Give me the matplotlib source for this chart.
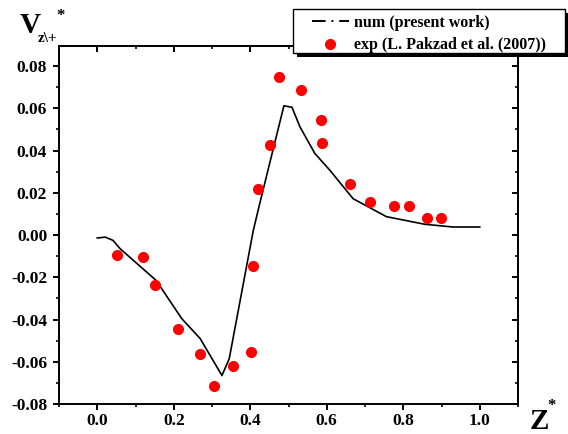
import matplotlib.pyplot as plt
from matplotlib.lines import Line2D
from matplotlib.patches import Rectangle
from matplotlib.ticker import MultipleLocator

# numerical profile (present work)
z_num = [0.0, 0.021, 0.041, 0.06, 0.154, 0.221, 0.269, 0.326, 0.345, 0.408,
         0.426, 0.488, 0.509, 0.530, 0.569, 0.608, 0.669, 0.756, 0.856, 0.930, 1.0]
v_num = [-0.0014, -0.001, -0.0025, -0.0065, -0.0215, -0.0396, -0.049, -0.0665,
         -0.0586, 0.0022, 0.0158, 0.0612, 0.0605, 0.0512, 0.0386, 0.0307,
         0.0172, 0.0087, 0.0051, 0.0038, 0.0038]

# experimental data (L. Pakzad et al. 2007)
z_exp = [0.051, 0.119, 0.151, 0.211, 0.269, 0.305, 0.354, 0.401, 0.408, 0.421,
         0.452, 0.476, 0.533, 0.586, 0.587, 0.661, 0.713, 0.776, 0.816, 0.861, 0.898]
v_exp = [-0.0093, -0.0104, -0.0235, -0.0447, -0.0565, -0.0717, -0.0622, -0.0556,
         -0.0145, 0.022, 0.0425, 0.0746, 0.0687, 0.0547, 0.0436, 0.0242, 0.0158,
         0.0137, 0.0137, 0.0081, 0.0081]

xticks = [0.0, 0.2, 0.4, 0.6, 0.8, 1.0]
yticks = [-0.08, -0.06, -0.04, -0.02, 0.00, 0.02, 0.04, 0.06, 0.08]

plt.rcParams['font.family'] = ['Liberation Serif', 'DejaVu Serif']
plt.rcParams['font.weight'] = 'bold'

W, H = 568, 434
fig = plt.figure(figsize=(W / 100, H / 100), dpi=100)
ax = fig.add_axes([59 / W, 1 - 404 / H, (518 - 59) / W, (404 - 46) / H])

ax.plot(z_num, v_num, color='black', lw=1.2)
ax.plot(z_exp, v_exp, 'o', color='#ff0000', ms=8, mec='none')

ax.set_xlim(-0.1, 1.1)
ax.set_ylim(-0.08, 0.0895)
ax.set_xticks(xticks)
ax.set_xticklabels([f"{t:.1f}" for t in xticks])
ax.set_yticks(yticks)
ax.set_yticklabels([f"{t:.2f}" for t in yticks])
ax.xaxis.set_minor_locator(MultipleLocator(0.1))
ax.yaxis.set_minor_locator(MultipleLocator(0.01))
ax.tick_params(which='major', direction='out', length=4, width=1.4, labelsize=12.5)
ax.tick_params(which='minor', direction='out', length=2.3, width=1.2)
ax.tick_params(axis='x', which='major', pad=2.5)
ax.tick_params(axis='y', which='major', pad=4.5)
for lab in ax.get_xticklabels() + ax.get_yticklabels():
    lab.set_fontweight('bold')
for s in ax.spines.values():
    s.set_linewidth(1.4)

# mirrored inward ticks on top and right
top = ax.secondary_xaxis('top')
top.set_xticks(xticks)
top.xaxis.set_minor_locator(MultipleLocator(0.1))
top.tick_params(which='major', direction='in', length=4, width=1.4, labeltop=False)
top.tick_params(which='minor', direction='in', length=2.3, width=1.2)
top.spines['top'].set_linewidth(1.4)
right = ax.secondary_yaxis('right')
right.set_yticks(yticks)
right.yaxis.set_minor_locator(MultipleLocator(0.01))
right.tick_params(which='major', direction='in', length=4, width=1.4, labelright=False)
right.tick_params(which='minor', direction='in', length=2.3, width=1.2)
right.spines['right'].set_linewidth(1.4)

# axis titles
fig.text(0.035, 0.925, 'V', fontsize=21, fontweight='bold', ha='left', va='baseline')
fig.text(0.066, 0.904, r'z\+', fontsize=11, fontweight='bold', ha='left', va='baseline')
fig.text(0.100, 0.955, '*', fontsize=12, fontweight='bold', ha='left', va='baseline')
fig.text(0.932, 0.012, 'Z', fontsize=21, fontweight='bold', ha='left', va='baseline')
fig.text(0.963, 0.055, '*', fontsize=12, fontweight='bold', ha='left', va='baseline')

# legend box with a solid offset shadow
fig.patches.append(Rectangle((297 / W, 1 - 57 / H), 272 / W, 44 / H, transform=fig.transFigure,
                             facecolor='black', edgecolor='none', zorder=5))
fig.patches.append(Rectangle((293 / W, 1 - 53 / H), 272 / W, 44 / H, transform=fig.transFigure,
                             facecolor='white', edgecolor='black', lw=1.0, zorder=6))

handles = [Line2D([], [], color='black', lw=1.4, ls=(0, (7, 3, 1, 3))),
           Line2D([], [], ls='none', marker='o', color='#ff0000', ms=8, mec='none')]
leg = fig.legend(handles, ['num (present work)', 'exp (L. Pakzad et al. (2007))'],
                 loc='upper left', bbox_to_anchor=(312 / W, 1 - 15 / H), frameon=False,
                 prop={'size': 11.5, 'weight': 'bold'},
                 handlelength=2.3, handletextpad=0.35, labelspacing=0.4,
                 borderpad=0, borderaxespad=0)
leg.set_zorder(7)

fig.savefig('out.png', dpi=100)
